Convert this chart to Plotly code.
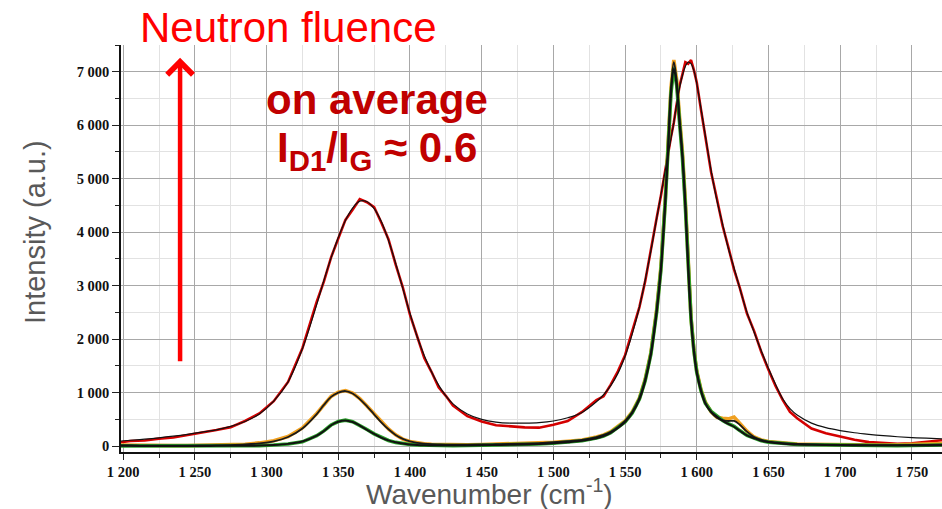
import plotly.graph_objects as go

wavenumber = [1198, 1205, 1215, 1225, 1235, 1245, 1255, 1265, 1275, 1285,
              1295, 1305, 1315, 1325, 1335, 1340, 1345, 1350, 1355, 1360,
              1365, 1370, 1375, 1380, 1385, 1390, 1395, 1400, 1405, 1410,
              1415, 1420, 1425, 1430, 1440, 1450, 1460, 1470, 1480, 1490,
              1500, 1510, 1520, 1530, 1535, 1540, 1545, 1550, 1555, 1560,
              1564, 1568, 1572, 1575, 1578, 1580, 1582, 1584, 1586, 1588,
              1590, 1592, 1594, 1596, 1598, 1600, 1603, 1606, 1610, 1614,
              1618, 1622, 1626, 1630, 1635, 1640, 1645, 1650, 1655, 1660,
              1665, 1670, 1680, 1690, 1700, 1710, 1720, 1730, 1740, 1750,
              1760, 1771]

red_data = [70, 95, 105, 140, 160, 205, 250, 300, 355, 470,
            610, 840, 1200, 1830, 2700, 3080, 3530, 3870, 4230, 4420,
            4620, 4560, 4470, 4180, 3870, 3400, 2970, 2460, 2070, 1650,
            1390, 1100, 940, 760, 560, 460, 390, 370, 350, 345,
            400, 470, 640, 860, 930, 1150, 1400, 1700, 2150, 2600,
            3080, 3700, 4260, 4680, 5180, 5430, 5780, 6050, 6420, 6740,
            6950, 7180, 7150, 7220, 7030, 6800, 6280, 5800, 5120, 4630,
            4120, 3720, 3300, 2960, 2480, 2150, 1760, 1430, 1120, 860,
            640, 520, 330, 240, 180, 120, 75, 60, 45, 55,
            80, 110]

red_fit = [95, 110, 130, 155, 185, 220, 260, 305, 370, 460,
           600, 840, 1200, 1820, 2650, 3100, 3520, 3900, 4220, 4450,
           4580, 4570, 4440, 4200, 3850, 3420, 2950, 2480, 2050, 1690,
           1390, 1140, 940, 790, 600, 500, 450, 430, 430, 440,
           470, 530, 630, 830, 960, 1130, 1360, 1680, 2100, 2600,
           3100, 3650, 4250, 4700, 5150, 5450, 5750, 6050, 6400, 6700,
           6930, 7100, 7180, 7150, 7020, 6780, 6300, 5800, 5150, 4600,
           4150, 3700, 3330, 2950, 2500, 2130, 1780, 1450, 1150, 880,
           700, 580, 430, 345, 290, 250, 220, 195, 175, 160,
           148, 135]

orange_data = [20, 15, 10, 15, 10, 10, 15, 20, 25, 35,
               60, 100, 180, 340, 610, 780, 930, 1010, 1040, 990,
               890, 750, 600, 450, 320, 210, 130, 85, 60, 45,
               35, 30, 25, 25, 25, 30, 35, 40, 45, 55,
               70, 90, 115, 170, 210, 270, 360, 470, 640, 900,
               1250, 1750, 2550, 3350, 4600, 5600, 6700, 7220, 6850, 6150,
               5500, 4600, 3400, 2400, 1800, 1400, 1050, 820, 640, 540,
               520, 510, 545, 430, 280, 170, 115, 85, 70, 55,
               45, 40, 35, 30, 25, 20, 20, 20, 25, 30,
               40, 50]

orange_fit = [15, 12, 10, 10, 10, 10, 12, 15, 20, 30,
              50, 90, 170, 330, 600, 770, 920, 1000, 1030, 985,
              880, 745, 595, 445, 315, 210, 135, 90, 62, 47,
              37, 32, 28, 27, 27, 30, 35, 40, 47, 57,
              72, 92, 118, 170, 210, 270, 355, 470, 640, 900,
              1240, 1740, 2540, 3340, 4580, 5580, 6680, 7180, 6830, 6130,
              5480, 4580, 3390, 2390, 1790, 1390, 1040, 810, 630, 530,
              480, 470, 470, 400, 270, 170, 115, 85, 68, 55,
              45, 40, 33, 28, 24, 21, 20, 20, 20, 22,
              25, 28]

green_data = [5, 5, 0, 5, 0, 5, 5, 5, 5, 5,
              10, 20, 40, 80, 195, 285, 395, 460, 485, 455,
              390, 310, 230, 160, 105, 70, 45, 30, 20, 15,
              12, 10, 10, 10, 12, 15, 20, 25, 30, 40,
              55, 75, 100, 150, 190, 250, 340, 450, 620, 880,
              1220, 1720, 2500, 3300, 4550, 5550, 6600, 7080, 6750, 6050,
              5400, 4500, 3350, 2380, 1780, 1380, 1030, 800, 650, 560,
              480, 420, 370, 290, 200, 150, 100, 75, 60, 45,
              35, 30, 25, 20, 15, 12, 10, 10, 10, 12,
              15, 20]

green_fit = [5, 5, 3, 3, 3, 3, 4, 5, 6, 7,
             10, 20, 42, 85, 195, 282, 390, 455, 478, 450,
             385, 305, 228, 160, 107, 72, 47, 32, 22, 16,
             13, 11, 10, 10, 12, 15, 20, 25, 31, 40,
             54, 74, 100, 148, 188, 248, 338, 448, 618, 875,
             1215, 1710, 2490, 3290, 4530, 5530, 6580, 7050, 6730, 6030,
             5380, 4480, 3340, 2370, 1770, 1370, 1025, 795, 645, 555,
             478, 415, 362, 288, 200, 148, 100, 75, 58, 45,
             36, 30, 24, 19, 15, 12, 11, 10, 10, 11,
             13, 15]

fig = go.Figure()
fig.add_trace(go.Scatter(x=wavenumber, y=red_data, mode="lines",
                         line=dict(color="#d40000", width=2.6), showlegend=False))
fig.add_trace(go.Scatter(x=wavenumber, y=orange_data, mode="lines",
                         line=dict(color="#f0a020", width=3.6), showlegend=False))
fig.add_trace(go.Scatter(x=wavenumber, y=green_data, mode="lines",
                         line=dict(color="#2aa02a", width=3.6), showlegend=False))
fig.add_trace(go.Scatter(x=wavenumber, y=red_fit, mode="lines", line_shape="spline",
                         line=dict(color="#111111", width=1.2), showlegend=False))
fig.add_trace(go.Scatter(x=wavenumber, y=orange_fit, mode="lines", line_shape="spline",
                         line=dict(color="#1a1a1a", width=1.8), showlegend=False))
fig.add_trace(go.Scatter(x=wavenumber, y=green_fit, mode="lines", line_shape="spline",
                         line=dict(color="#111111", width=2.0), showlegend=False))

tickfont = dict(family="Liberation Serif", size=14.5, color="#111111", weight="bold")

fig.update_xaxes(range=[1198.5, 1771], tickmode="linear", tick0=1200, dtick=50,
                 tickformat=",d", ticks="outside", ticklen=6, tickwidth=1.2, tickcolor="#222",
                 showline=True, linecolor="#111", linewidth=1.5,
                 showgrid=True, gridcolor="#a8a8a8", gridwidth=1.2, zeroline=False,
                 minor=dict(dtick=25, tick0=1200, ticks="outside", ticklen=4, tickcolor="#222",
                            showgrid=True, gridcolor="#e2e2e2", gridwidth=1),
                 tickfont=tickfont)
fig.update_yaxes(range=[-110, 7500], tickmode="linear", tick0=0, dtick=1000,
                 tickformat=",d", ticks="outside", ticklen=7, tickwidth=1.2, tickcolor="#222",
                 showline=True, linecolor="#111", linewidth=1.5,
                 showgrid=True, gridcolor="#a8a8a8", gridwidth=1.2, zeroline=False,
                 minor=dict(dtick=500, tick0=0, ticks="outside", ticklen=4, tickcolor="#222",
                            showgrid=True, gridcolor="#e2e2e2", gridwidth=1),
                 tickfont=tickfont)

fig.update_layout(
    width=942, height=509,
    margin=dict(l=121, r=0, t=45, b=57),
    paper_bgcolor="white", plot_bgcolor="white",
    separators=". ",
    showlegend=False,
)

sans = "Liberation Sans, Arial, sans-serif"
fig.add_annotation(text="Wavenumber (cm<sup>-1</sup>)", xref="paper", yref="paper",
                   x=0.4494, y=-0.099, xanchor="center", yanchor="middle", showarrow=False,
                   font=dict(family=sans, size=28, color="#595959"))
fig.add_annotation(text="Intensity (a.u.)", xref="paper", yref="paper",
                   x=-0.1047, y=0.5405, xanchor="center", yanchor="middle", showarrow=False,
                   textangle=-90, font=dict(family=sans, size=29, color="#595959"))
fig.add_annotation(text="Neutron fluence", xref="paper", yref="paper",
                   x=0.2046, y=1.044, xanchor="center", yanchor="middle", showarrow=False,
                   font=dict(family=sans, size=42, color="#ff0000"))
fig.add_annotation(text="<b>on average</b>", xref="paper", yref="paper",
                   x=0.3118, y=0.8649, xanchor="center", yanchor="middle", showarrow=False,
                   font=dict(family=sans, size=42, color="#c00000"))
fig.add_annotation(text="<b>I<sub>D1</sub>/I<sub>G</sub> ≈ 0.6</b>", xref="paper", yref="paper",
                   x=0.3118, y=0.74, xanchor="center", yanchor="middle", showarrow=False,
                   font=dict(family=sans, size=42, color="#c00000"))
fig.add_annotation(x=1239.7, y=7260, ax=1239.7, ay=1560, xref="x", yref="y",
                   axref="x", ayref="y", text="", showarrow=True,
                   arrowhead=4, arrowsize=1.1, arrowwidth=4.5, arrowcolor="#ff0000")

fig.write_html("out.html", config={"displayModeBar": False},
               post_script="document.body.style.margin='0px';")
